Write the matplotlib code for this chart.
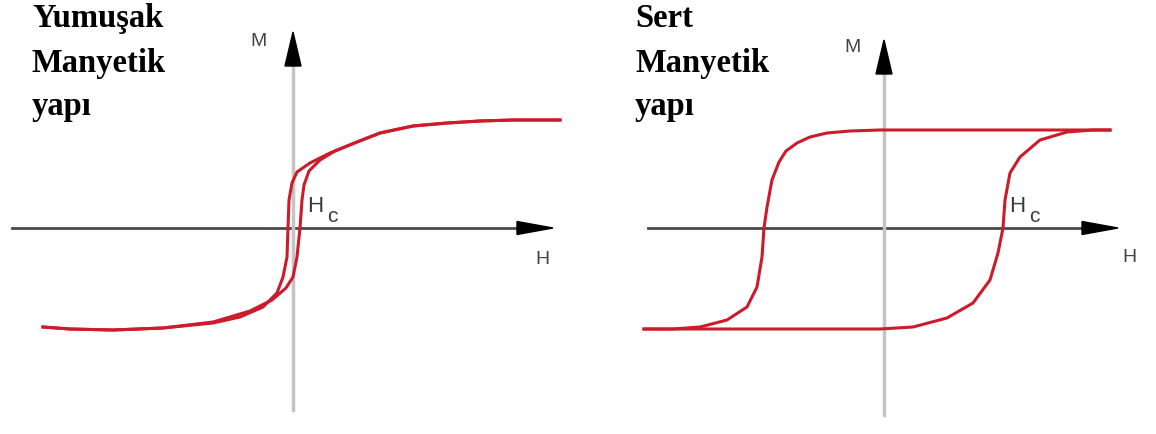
import matplotlib
matplotlib.use("agg")
import matplotlib.pyplot as plt
from matplotlib.patches import Polygon

# ---- data (H, M in arbitrary units, 1 unit ~ 100 px) ----
# soft magnetic loop
soft_up_H = [2.67, 2.20, 1.87, 1.54, 1.20, 0.87, 0.64, 0.37, 0.17, 0.04, -0.01,
             -0.04, -0.05, -0.06, -0.10, -0.16, -0.30, -0.53, -0.80, -1.30,
             -1.80, -2.23, -2.50]
soft_up_M = [1.08, 1.08, 1.07, 1.05, 1.02, 0.95, 0.86, 0.75, 0.65, 0.56, 0.45,
             0.28, 0.00, -0.29, -0.49, -0.65, -0.79, -0.89, -0.95, -1.00,
             -1.02, -1.01, -0.99]
soft_dn_H = [-2.50, -2.23, -1.80, -1.30, -0.80, -0.43, -0.21, -0.07, 0.00, 0.04,
             0.07, 0.09, 0.11, 0.16, 0.27, 0.42, 0.64, 0.87, 1.20, 1.54, 1.87,
             2.20, 2.67]
soft_dn_M = [-0.99, -1.01, -1.02, -1.00, -0.94, -0.83, -0.72, -0.60, -0.49,
             -0.29, 0.00, 0.28, 0.43, 0.57, 0.68, 0.77, 0.86, 0.95, 1.02, 1.05,
             1.07, 1.08, 1.08]

# hard magnetic loop
hard_up_H = [2.26, 2.09, 1.56, 0.76, -0.04, -0.34, -0.57, -0.74, -0.87, -0.98,
             -1.05, -1.12, -1.17, -1.20, -1.22, -1.27, -1.37, -1.57, -1.84,
             -2.11, -2.40]
hard_up_M = [0.98, 0.98, 0.98, 0.98, 0.98, 0.97, 0.95, 0.91, 0.85, 0.77, 0.66,
             0.48, 0.21, 0.00, -0.29, -0.59, -0.79, -0.92, -0.99, -1.01, -1.01]
hard_dn_H = [-2.40, -1.84, -0.84, -0.04, 0.29, 0.63, 0.89, 1.06, 1.14, 1.19,
             1.21, 1.26, 1.36, 1.56, 1.83, 2.09, 2.26]
hard_dn_M = [-1.01, -1.01, -1.01, -1.01, -0.99, -0.90, -0.75, -0.52, -0.25,
             0.00, 0.28, 0.55, 0.71, 0.88, 0.96, 0.98, 0.98]

titles_left = ["Yumuşak", "Manyetik", "yapı"]
titles_right = ["Sert", "Manyetik", "yapı"]

RED = "#cc1b2b"

fig = plt.figure(figsize=(11.56, 4.34), dpi=100)
ax_l = fig.add_axes([0, 0, 0.5, 1])
ax_r = fig.add_axes([0.5, 0, 0.5, 1])

ax_l.set_xlim(-2.93, 2.85)
ax_r.set_xlim(-3.06, 2.72)
for ax in (ax_l, ax_r):
    ax.set_ylim(-2.06, 2.28)
    ax.axis("off")


def draw_axes(ax, h_start, h_tip, v_bottom, v_tip, hc_x, m_pos, h_pos):
    # horizontal axis
    ax.plot([h_start, h_tip - 0.3], [0, 0], color="#4a4a4a", lw=2, zorder=1)
    ax.add_patch(Polygon([[h_tip, 0], [h_tip - 0.36, 0.065], [h_tip - 0.36, -0.065]],
                         closed=True, color="black", zorder=3))
    # vertical axis
    ax.plot([0, 0], [v_bottom, v_tip - 0.3], color="#c4c4c4", lw=2.5, zorder=1)
    ax.add_patch(Polygon([[0, v_tip], [-0.08, v_tip - 0.34], [0.08, v_tip - 0.34]],
                         closed=True, color="black", zorder=3))
    ax.text(m_pos[0], m_pos[1], "M", fontsize=14, color="#444444",
            ha="center", va="center", family="Liberation Sans")
    ax.text(h_pos[0], h_pos[1], "H", fontsize=14, color="#444444",
            ha="center", va="center", family="Liberation Sans")
    ax.text(hc_x, 0.22, "H", fontsize=16, color="#3a3a3a",
            ha="center", va="center", family="Liberation Sans")
    ax.text(hc_x + 0.17, 0.12, "c", fontsize=15, color="#3a3a3a",
            ha="center", va="center", family="Liberation Sans")


draw_axes(ax_l, -2.81, 2.60, -1.82, 1.96, 0.22, (-0.35, 1.86), (2.49, -0.32))
draw_axes(ax_r, -2.36, 2.34, -1.87, 1.88, 1.33, (-0.31, 1.80), (2.45, -0.30))

# loops
for ax, H1, M1, H2, M2 in [(ax_l, soft_up_H, soft_up_M, soft_dn_H, soft_dn_M),
                           (ax_r, hard_up_H, hard_up_M, hard_dn_H, hard_dn_M)]:
    ax.plot(H1, M1, color=RED, lw=2.2, solid_joinstyle="round", zorder=2)
    ax.plot(H2, M2, color=RED, lw=2.2, solid_joinstyle="round", zorder=2)

# titles, one line at a time
baselines = [27, 72, 115]
for x0, lines in [(32, titles_left), (635, titles_right)]:
    for y0, line in zip(baselines, lines):
        fig.text(x0 / 1156, 1 - y0 / 434, line, fontsize=23.5, fontweight="bold",
                 family="Liberation Serif", va="baseline", ha="left")

fig.savefig("out.png", dpi=100)
